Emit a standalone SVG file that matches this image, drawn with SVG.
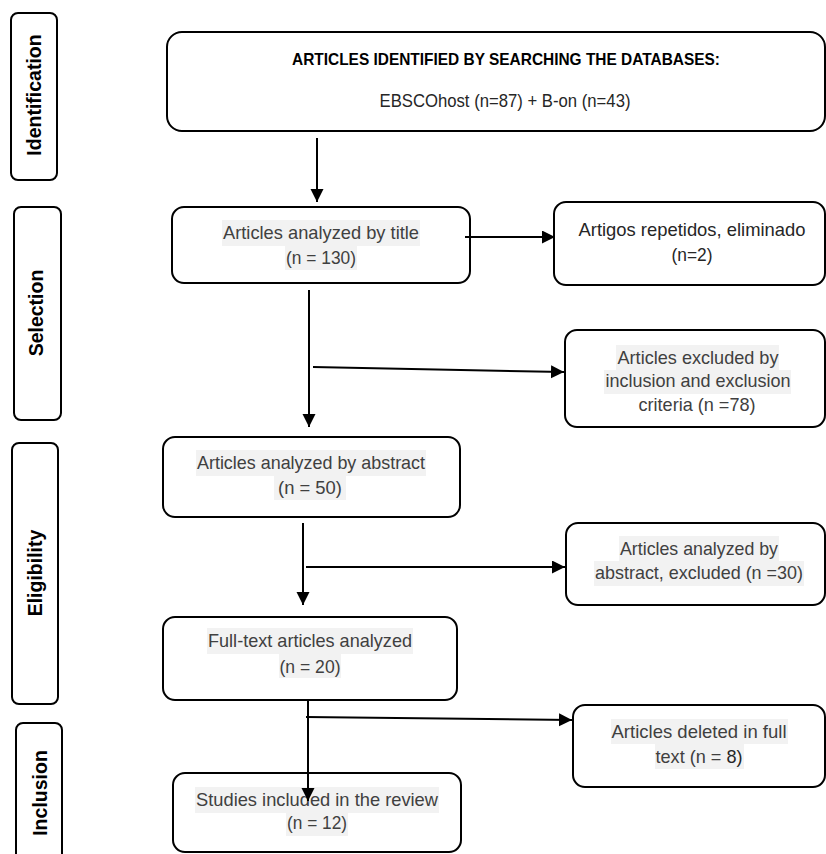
<svg xmlns="http://www.w3.org/2000/svg" width="826" height="854" viewBox="0 0 826 854">
<style>
.box{fill:#fff;stroke:#000;stroke-width:2}
.side{fill:#fff;stroke:#000;stroke-width:2}
.lab{font-family:"Liberation Sans",Arial,sans-serif;font-weight:bold;font-size:19.5px;fill:#000;text-anchor:middle}
.t{font-family:"Liberation Sans",Arial,sans-serif;font-size:18.5px;fill:#404040;text-anchor:middle}
.d{fill:#262626}
.hl{fill:#f2f2f2}
.ttl{font-family:"Liberation Sans",Arial,sans-serif;font-weight:bold;font-size:16.5px;fill:#000;text-anchor:middle}
.conn{stroke:#000;stroke-width:2;fill:none;marker-end:url(#ah)}
</style>
<defs>
<marker id="ah" markerUnits="userSpaceOnUse" markerWidth="14" markerHeight="14" refX="13" refY="6.5" orient="auto">
<path d="M0,0 L13,6.5 L0,13 z" fill="#000"/>
</marker>
</defs>
<rect width="826" height="854" fill="#fff"/>

<g id="side-identification">
<rect class="side" x="11" y="13" width="46" height="167" rx="7"/>
<text class="lab" transform="translate(41,95) rotate(-90)">Identification</text>
</g>
<g id="side-selection">
<rect class="side" x="14" y="207" width="47" height="213" rx="7"/>
<text class="lab" transform="translate(43,313) rotate(-90)">Selection</text>
</g>
<g id="side-eligibility">
<rect class="side" x="12" y="443" width="46" height="261" rx="7"/>
<text class="lab" transform="translate(42,573) rotate(-90)">Eligibility</text>
</g>
<g id="side-inclusion">
<rect class="side" x="16" y="723" width="46" height="150" rx="7"/>
<text class="lab" transform="translate(47,793) rotate(-90)">Inclusion</text>
</g>

<g id="n-identified">
<rect class="box" x="167" y="32" width="658" height="99" rx="15"/>
<text class="ttl" x="506" y="65" textLength="428" lengthAdjust="spacingAndGlyphs">ARTICLES IDENTIFIED BY SEARCHING THE DATABASES:</text>
<text class="t d" x="505" y="107" textLength="251" lengthAdjust="spacingAndGlyphs">EBSCOhost (n=87) + B-on (n=43)</text>
</g>

<g id="n-title">
<rect class="box" x="172" y="207" width="298" height="76" rx="12"/>
<rect class="hl" x="222" y="220" width="198" height="26"/>
<rect class="hl" x="285" y="246" width="72" height="24"/>
<text class="t" x="321" y="239" textLength="196" lengthAdjust="spacingAndGlyphs">Articles analyzed by title</text>
<text class="t" x="321" y="264" textLength="70" lengthAdjust="spacingAndGlyphs">(n = 130)</text>
</g>

<g id="n-repeated">
<rect class="box" x="554" y="202" width="271" height="83" rx="12"/>
<text class="t d" x="692" y="236" textLength="227" lengthAdjust="spacingAndGlyphs">Artigos repetidos, eliminado</text>
<text class="t d" x="692" y="261" textLength="41" lengthAdjust="spacingAndGlyphs">(n=2)</text>
</g>

<g id="n-excluded-criteria">
<rect class="box" x="565" y="330" width="260" height="97" rx="12"/>
<rect class="hl" x="616" y="345" width="163" height="25"/>
<rect class="hl" x="604" y="370" width="187" height="24"/>
<text class="t" x="698" y="364" textLength="161" lengthAdjust="spacingAndGlyphs">Articles excluded by</text>
<text class="t" x="698" y="387" textLength="185" lengthAdjust="spacingAndGlyphs">inclusion and exclusion</text>
<text class="t" x="697" y="411" textLength="117" lengthAdjust="spacingAndGlyphs">criteria (n =78)</text>
</g>

<g id="n-abstract">
<rect class="box" x="163" y="437" width="297" height="80" rx="12"/>
<rect class="hl" x="196" y="450" width="230" height="26"/>
<rect class="hl" x="274" y="476" width="72" height="24"/>
<text class="t" x="311" y="469" textLength="228" lengthAdjust="spacingAndGlyphs">Articles analyzed by abstract</text>
<text class="t" x="310" y="494" textLength="64" lengthAdjust="spacingAndGlyphs">(n = 50)</text>
</g>

<g id="n-abstract-excluded">
<rect class="box" x="566" y="523" width="259" height="82" rx="12"/>
<rect class="hl" x="619" y="536" width="160" height="25"/>
<rect class="hl" x="594" y="561" width="210" height="25"/>
<text class="t" x="699" y="555" textLength="158" lengthAdjust="spacingAndGlyphs">Articles analyzed by</text>
<text class="t" x="699" y="579" textLength="208" lengthAdjust="spacingAndGlyphs">abstract, excluded (n =30)</text>
</g>

<g id="n-fulltext">
<rect class="box" x="163" y="617" width="294" height="83" rx="12"/>
<rect class="hl" x="207" y="628" width="206" height="26"/>
<rect class="hl" x="279" y="654" width="62" height="24"/>
<text class="t" x="310" y="647" textLength="204" lengthAdjust="spacingAndGlyphs">Full-text articles analyzed</text>
<text class="t" x="310" y="673" textLength="61" lengthAdjust="spacingAndGlyphs">(n = 20)</text>
</g>

<g id="n-deleted">
<rect class="box" x="573" y="705" width="252" height="82" rx="12"/>
<rect class="hl" x="611" y="719" width="177" height="25"/>
<rect class="hl" x="655" y="744" width="89" height="25"/>
<text class="t" x="699" y="738" textLength="175" lengthAdjust="spacingAndGlyphs">Articles deleted in full</text>
<text class="t" x="699" y="763" textLength="87" lengthAdjust="spacingAndGlyphs">text (n = <tspan class="d">8)</tspan></text>
</g>

<g id="n-included">
<rect class="box" x="173" y="773" width="288" height="79" rx="12"/>
<rect class="hl" x="195" y="787" width="244" height="26"/>
<rect class="hl" x="286" y="813" width="62" height="23"/>
<text class="t" x="317" y="806" textLength="242" lengthAdjust="spacingAndGlyphs">Studies included in the review</text>
<text class="t" x="317" y="829" textLength="60" lengthAdjust="spacingAndGlyphs">(n = 12)</text>
</g>

<g id="connectors">
<line class="conn" x1="317" y1="138" x2="317" y2="202"/>
<line class="conn" x1="465" y1="237" x2="555" y2="237"/>
<line class="conn" x1="309" y1="290" x2="309" y2="427"/>
<line class="conn" x1="313" y1="367" x2="564" y2="372"/>
<line class="conn" x1="303" y1="523" x2="303" y2="605"/>
<line class="conn" x1="306" y1="567" x2="565" y2="567"/>
<line class="conn" x1="308" y1="700" x2="308" y2="801"/>
<line class="conn" x1="306" y1="717" x2="572" y2="720"/>
</g>
</svg>
